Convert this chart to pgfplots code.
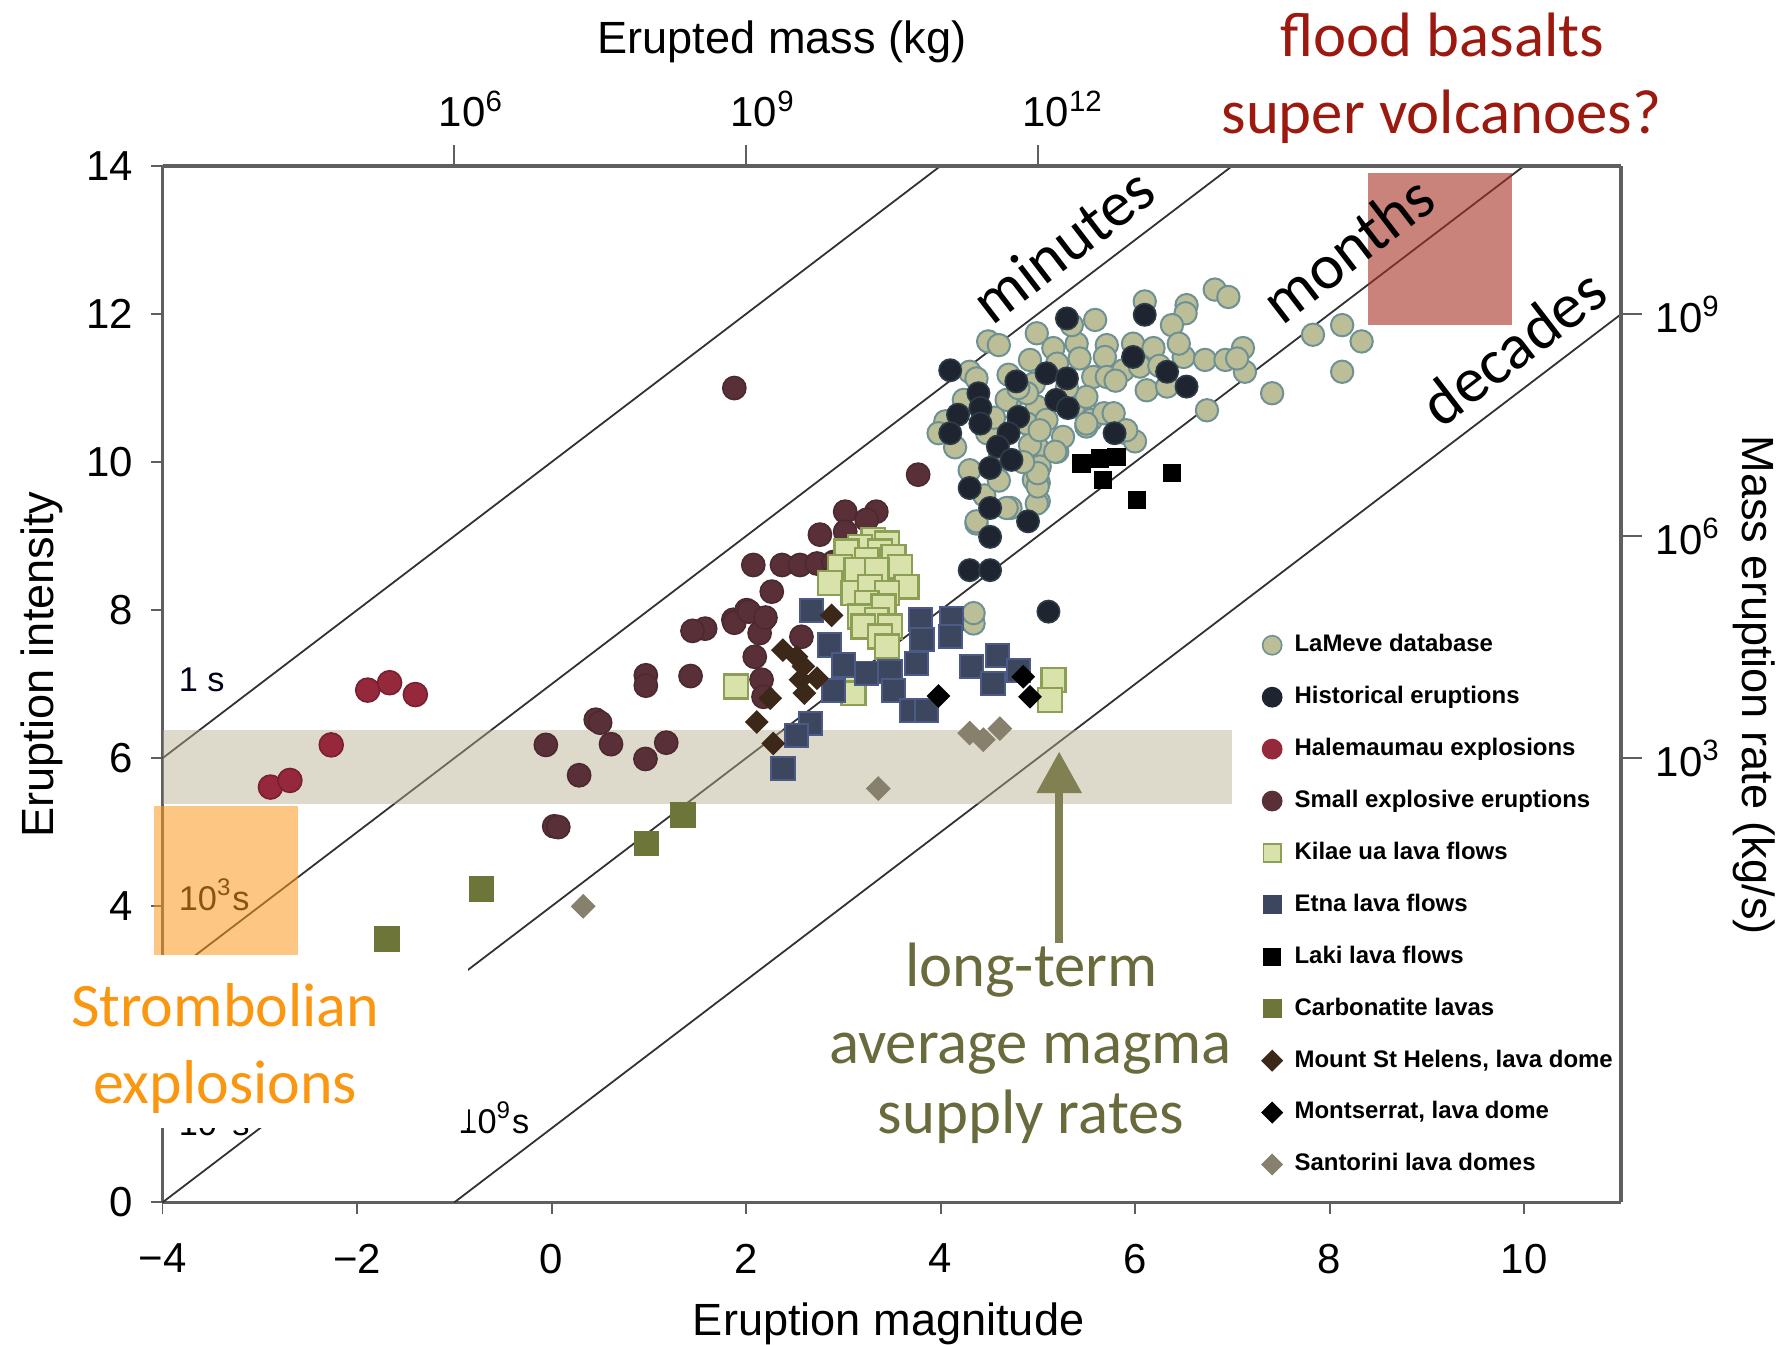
\documentclass[border=0pt]{standalone}
\usepackage{fontspec}
\setmainfont{Liberation Sans}
\newfontfamily\calib{Carlito}
\usepackage{pgfplots}
\pgfplotsset{compat=1.18}
\usetikzlibrary{arrows.meta}

\definecolor{lamevefill}{RGB}{188,190,152}
\definecolor{lamevedraw}{RGB}{110,145,148}
\definecolor{histfill}{RGB}{30,37,48}
\definecolor{histdraw}{RGB}{45,60,70}
\definecolor{halefill}{RGB}{150,40,60}
\definecolor{smallfill}{RGB}{90,48,56}
\definecolor{kilfill}{RGB}{218,226,172}
\definecolor{kildraw}{RGB}{140,160,85}
\definecolor{etnafill}{RGB}{60,70,95}
\definecolor{etnadraw}{RGB}{75,90,135}
\definecolor{carbfill}{RGB}{110,117,56}
\definecolor{mshfill}{RGB}{60,40,25}
\definecolor{santfill}{RGB}{135,128,108}
\definecolor{bandc}{RGB}{182,173,139}
\definecolor{orangebox}{RGB}{251,153,30}
\definecolor{redbox}{RGB}{165,48,35}
\definecolor{floodred}{RGB}{155,25,15}
\definecolor{strombo}{RGB}{250,150,15}
\definecolor{olivetext}{RGB}{105,107,60}
\definecolor{olivearrow}{RGB}{128,128,82}
\definecolor{axisgray}{RGB}{95,95,95}
\definecolor{linec}{RGB}{50,50,50}

\begin{document}
\begin{tikzpicture}
\begin{axis}[
  scale only axis, width=12.836cm, height=9.12cm,
  xmin=-4, xmax=11, ymin=0, ymax=14,
  axis x line*=bottom, axis y line*=left,
  axis line style={axisgray, line width=0.7pt, -},
  xtick={-4,-2,...,10}, xticklabels={−4,−2,0,2,4,6,8,10},
  ytick={0,2,...,14},
  tick align=outside, major tick length=0.1cm,
  tick style={axisgray, line width=0.5pt},
  ticklabel style={font=\fontsize{10.5}{12}\selectfont},
  /pgf/number format/assume math mode=true,
  xticklabel style={yshift=-4pt},
  yticklabel style={xshift=-1pt},
  clip=false,
  legend cell align=left,
  legend image code/.code={\draw[#1] plot coordinates {(0cm,0cm)}; \path (-0.1cm,-3.2pt) (0.19cm,3.2pt);},
  legend style={draw=none, fill=none, at={(axis cs:7.277,7.72)}, anchor=north west,
    inner sep=0pt, row sep=6.2pt,
    font=\bfseries\fontsize{6}{7}\selectfont,
    nodes={inner sep=0pt, text height=4.6pt, text depth=1.4pt}},
]
% duration lines
\addplot[linec, line width=0.45pt, forget plot] coordinates {(-4,6) (4,14)};
\addplot[linec, line width=0.45pt, forget plot] coordinates {(-4,3) (7,14)};
\addplot[linec, line width=0.45pt, forget plot] coordinates {(-4,0) (10,14)};
\addplot[linec, line width=0.45pt, forget plot] coordinates {(-1,0) (11,12)};

% LaMeve database
\addplot[only marks, mark=*, mark size=2.8pt, mark options={fill=lamevefill, draw=lamevedraw, line width=0.5pt}, forget plot] coordinates {
(6.82,12.33)(6.96,12.23)(6.10,12.17)(6.53,12.12)(6.52,12.01)(5.59,11.92)(4.99,11.74)(4.49,11.63)(4.60,11.58)
(5.16,11.54)(5.40,11.60)(5.71,11.58)(5.98,11.60)(6.19,11.54)(6.38,11.85)(5.43,11.40)(5.69,11.42)(5.57,11.15)
(5.71,11.15)(5.88,11.24)(6.05,11.29)(6.12,10.97)(6.33,11.02)(6.50,11.42)(6.72,11.38)(6.93,11.38)(7.11,11.54)
(7.13,11.22)(6.74,10.70)(7.41,10.93)(7.83,11.72)(8.13,11.85)(8.33,11.63)(8.13,11.22)(4.30,11.22)(4.70,11.18)
(4.96,11.06)(4.92,11.38)(5.20,11.33)(4.72,10.84)(4.99,10.75)(4.89,10.52)(5.09,10.57)(5.37,10.75)(5.50,10.88)
(5.55,10.57)(5.68,10.66)(5.50,10.48)(5.20,10.14)(4.99,10.21)(5.02,9.94)(4.96,9.76)(5.01,9.47)(4.72,9.38)
(4.37,9.17)(4.00,10.41)(4.30,9.89)(4.48,10.39)(4.24,10.84)(4.37,11.13)(5.91,10.39)(6.00,10.28)(5.78,10.66)
(5.26,10.34)(4.61,10.03)(4.68,9.38)(4.37,9.20)(5.01,9.72)(4.34,7.82)(4.99,9.44)(5.00,9.67)(5.00,9.85)
(5.18,10.14)(4.92,10.23)(4.61,10.07)(5.50,10.52)(5.91,10.43)(4.68,10.84)(4.89,10.93)(5.02,10.43)(4.34,7.96)
(4.05,10.55)(4.15,10.20)(4.45,9.55)(4.60,9.75)(4.85,10.00)(4.55,10.60)(4.80,11.00)(5.30,11.00)(5.80,11.10)
(6.25,11.30)(5.35,11.85)(6.45,11.60)(7.05,11.40)(3.98,10.39)
};
% Historical eruptions
\addplot[only marks, mark=*, mark size=2.8pt, mark options={fill=histfill, draw=histdraw, line width=0.4pt}, forget plot] coordinates {
(5.30,11.94)(6.10,11.99)(4.10,11.24)(5.98,11.42)(6.33,11.22)(6.53,11.02)(4.39,10.93)(4.78,11.09)(5.09,11.20)
(5.30,11.13)(5.19,10.84)(5.31,10.73)(4.18,10.64)(4.41,10.73)(4.41,10.52)(4.10,10.39)(4.80,10.61)(4.70,10.39)
(4.59,10.21)(4.73,10.03)(4.51,9.92)(4.30,9.65)(4.51,9.38)(4.90,9.20)(4.51,8.99)(5.79,10.39)(4.30,8.54)
(4.51,8.54)(5.11,7.98)
};
% Halemaumau explosions
\addplot[only marks, mark=*, mark size=3.0pt, mark options={fill=halefill, draw=halefill!80!black, line width=0.4pt}, forget plot] coordinates {
(-1.89,6.92)(-1.665,7.02)(-1.40,6.86)(-2.265,6.18)(-2.89,5.61)(-2.69,5.70)
};
% Small explosive eruptions
\addplot[only marks, mark=*, mark size=2.9pt, mark options={fill=smallfill, draw=smallfill!85!black, line width=0.4pt}, forget plot] coordinates {
(1.88,11.0)(3.77,9.83)(3.02,9.33)(3.34,9.33)(3.24,9.22)(2.76,9.02)(3.02,9.06)(2.075,8.61)(2.37,8.61)
(2.555,8.61)(2.73,8.63)(2.90,8.65)(2.265,8.25)(1.87,7.87)(2.007,8.0)(2.18,7.87)(2.14,7.69)(2.57,7.64)
(2.09,7.37)(2.16,7.06)(2.18,6.83)(1.58,7.75)(1.45,7.72)(1.88,7.83)(2.03,7.98)(2.2,7.9)(0.97,7.12)
(0.97,6.98)(1.43,7.11)(0.455,6.52)(0.50,6.48)(-0.058,6.18)(0.284,5.77)(0.612,6.19)(0.966,5.99)(1.18,6.21)
(0.028,5.08)(0.07,5.07)
};
% Kilauea lava flows
\addplot[only marks, mark=square*, mark size=3.0pt, mark options={fill=kilfill, draw=kildraw, line width=0.6pt}, forget plot] coordinates {
(3.309,8.948)(3.447,8.903)(3.172,8.857)(3.035,8.790)(3.378,8.790)(3.515,8.722)(3.241,8.678)(2.967,8.587)
(3.584,8.587)(3.138,8.543)(3.344,8.543)(2.864,8.363)(3.652,8.317)(3.104,8.228)(3.275,8.317)(3.447,8.228)
(3.241,8.093)(3.412,8.047)(3.172,7.912)(3.344,7.867)(3.481,7.777)(3.206,7.777)(3.378,7.642)(3.447,7.507)
(3.035,7.057)(3.104,6.877)(1.90,6.97)(5.16,7.06)(5.125,6.79)
};
% Etna lava flows
\addplot[only marks, mark=square*, mark size=2.9pt, mark options={fill=etnafill, draw=etnadraw, line width=0.5pt}, forget plot] coordinates {
(2.675,8.0)(2.86,7.53)(3.0,7.26)(3.24,7.15)(3.48,7.17)(3.515,6.92)(2.90,6.92)(3.70,6.65)(3.86,6.65)
(3.79,7.87)(3.81,7.60)(3.755,7.28)(4.115,7.89)(4.10,7.64)(4.32,7.24)(4.59,7.39)(4.54,7.01)(4.80,7.19)
(2.66,6.47)(2.52,6.31)(2.38,5.86)
};
% Laki lava flows
\addplot[only marks, mark=square*, mark size=2.1pt, mark options={fill=black, draw=black}, forget plot] coordinates {
(5.45,9.98)(5.64,10.05)(5.81,10.07)(5.67,9.76)(6.02,9.49)(6.38,9.85)
};
% Carbonatite lavas
\addplot[only marks, mark=square*, mark size=3.0pt, mark options={fill=carbfill, draw=carbfill}, forget plot] coordinates {
(-1.69,3.56)(-0.718,4.23)(0.975,4.85)(1.35,5.23)
};
% Mount St Helens, lava dome
\addplot[only marks, mark=square*, mark size=1.9pt, mark options={rotate=45, fill=mshfill, draw=mshfill}, forget plot] coordinates {
(2.38,7.46)(2.52,7.37)(2.59,7.24)(2.56,7.06)(2.73,7.08)(2.60,6.88)(2.25,6.81)(2.11,6.49)(2.88,7.93)(2.28,6.20)
};
% Montserrat, lava dome
\addplot[only marks, mark=square*, mark size=1.9pt, mark options={rotate=45, fill=black, draw=black}, forget plot] coordinates {
(3.98,6.84)(4.85,7.10)(4.92,6.83)
};
% Santorini lava domes
\addplot[only marks, mark=square*, mark size=2.0pt, mark options={rotate=45, fill=santfill, draw=santfill}, forget plot] coordinates {
(4.30,6.34)(4.44,6.25)(4.61,6.40)(3.36,5.59)(0.326,4.0)
};

% duration labels
\node[anchor=base west, font=\fontsize{8.6}{10}\selectfont, text=black!90!blue, inner sep=0pt] at (axis cs:-3.84,6.90) {1 s};
\node[anchor=base west, font=\fontsize{8.6}{10}\selectfont, inner sep=0pt] at (axis cs:-3.84,3.94) {10\textsuperscript{3}s};
\node[anchor=base west, font=\fontsize{8.6}{10}\selectfont, inner sep=0pt] at (axis cs:-3.84,0.91) {10\textsuperscript{6}s};
\node[anchor=base west, font=\fontsize{8.6}{10}\selectfont, inner sep=0pt] at (axis cs:-0.965,0.933) {10\textsuperscript{9}s};

% band of long-term supply rates
\fill[bandc, opacity=0.45] (axis cs:-4,5.375) rectangle (axis cs:7,6.38);
% boxes
\fill[orangebox, opacity=0.55] (axis cs:-4.085,3.34) rectangle (axis cs:-2.605,5.357);
\fill[redbox, opacity=0.6] (axis cs:8.40,11.845) rectangle (axis cs:9.875,13.91);
\fill[white] (axis cs:-5.3,1.0) rectangle (axis cs:-0.86,3.34);

% annotations
\node[anchor=base west, rotate=37.5, font=\calib\fontsize{16}{19}\selectfont, inner sep=0pt] at (axis cs:4.53,11.83) {minutes};
\node[anchor=base west, rotate=37.5, font=\calib\fontsize{16}{19}\selectfont, inner sep=0pt] at (axis cs:7.51,11.83) {months};
\node[anchor=base west, rotate=37.5, font=\calib\fontsize{16}{19}\selectfont, inner sep=0pt] at (axis cs:9.15,10.44) {decades};

\node[anchor=base, font=\calib\fontsize{15.7}{19}\selectfont, text=floodred, inner sep=0pt] at (axis cs:9.16,15.48) {flood basalts};
\node[anchor=base, font=\calib\fontsize{15.7}{19}\selectfont, text=floodred, inner sep=0pt] at (axis cs:9.15,14.44) {super volcanoes?};

\node[anchor=base, font=\calib\fontsize{15.5}{19}\selectfont, text=strombo, inner sep=0pt] at (axis cs:-3.357,2.373) {Strombolian};
\node[anchor=base, font=\calib\fontsize{15.5}{19}\selectfont, text=strombo, inner sep=0pt] at (axis cs:-3.357,1.339) {explosions};

\draw[olivearrow, line width=2.1pt, -{Triangle[width=0.38cm,length=0.365cm]}] (axis cs:5.22,3.50) -- (axis cs:5.22,6.09);
\node[anchor=base, font=\calib\fontsize{15.7}{19}\selectfont, text=olivetext, inner sep=0pt] at (axis cs:4.935,2.92) {long-term};
\node[anchor=base, font=\calib\fontsize{15.7}{19}\selectfont, text=olivetext, inner sep=0pt] at (axis cs:4.925,1.879) {average magma};
\node[anchor=base, font=\calib\fontsize{15.7}{19}\selectfont, text=olivetext, inner sep=0pt] at (axis cs:4.93,0.933) {supply rates};

% axis titles
\node[anchor=base, font=\fontsize{11.3}{13}\selectfont, inner sep=0pt] at (rel axis cs:0.4978,-0.128) {Eruption magnitude};
\node[anchor=base, rotate=90, font=\fontsize{11.3}{13}\selectfont, inner sep=0pt] at (rel axis cs:-0.0748,0.519) {Eruption intensity};
\node[anchor=base, font=\fontsize{11.3}{13}\selectfont, inner sep=0pt] at (rel axis cs:0.4246,1.1086) {Erupted mass (kg)};
\node[anchor=base, rotate=-90, font=\fontsize{11.3}{13}\selectfont, inner sep=0pt] at (rel axis cs:1.0829,0.499) {Mass eruption rate (kg/s)};

% legend
\addlegendimage{only marks, mark=*, mark size=2.4pt, mark options={fill=lamevefill, draw=lamevedraw}}
\addlegendentry{LaMeve database}
\addlegendimage{only marks, mark=*, mark size=2.4pt, mark options={fill=histfill, draw=histfill}}
\addlegendentry{Historical eruptions}
\addlegendimage{only marks, mark=*, mark size=2.4pt, mark options={fill=halefill, draw=halefill}}
\addlegendentry{Halemaumau explosions}
\addlegendimage{only marks, mark=*, mark size=2.4pt, mark options={fill=smallfill, draw=smallfill}}
\addlegendentry{Small explosive eruptions}
\addlegendimage{only marks, mark=square*, mark size=2.2pt, mark options={fill=kilfill, draw=kildraw}}
\addlegendentry{Kilae ua lava flows}
\addlegendimage{only marks, mark=square*, mark size=2.2pt, mark options={fill=etnafill, draw=etnafill}}
\addlegendentry{Etna lava flows}
\addlegendimage{only marks, mark=square*, mark size=2.0pt, mark options={fill=black, draw=black}}
\addlegendentry{Laki lava flows}
\addlegendimage{only marks, mark=square*, mark size=2.2pt, mark options={fill=carbfill, draw=carbfill}}
\addlegendentry{Carbonatite lavas}
\addlegendimage{only marks, mark=square*, mark size=1.75pt, mark options={rotate=45, fill=mshfill, draw=mshfill}}
\addlegendentry{Mount St Helens, lava dome}
\addlegendimage{only marks, mark=square*, mark size=1.75pt, mark options={rotate=45, fill=black, draw=black}}
\addlegendentry{Montserrat, lava dome}
\addlegendimage{only marks, mark=square*, mark size=1.75pt, mark options={rotate=45, fill=santfill, draw=santfill}}
\addlegendentry{Santorini lava domes}

\coordinate (BBll) at (axis cs:-5.671,-1.926);
\coordinate (BBur) at (axis cs:12.653,16.242);
\end{axis}

\begin{axis}[
  scale only axis, width=12.836cm, height=9.12cm,
  xmin=-4, xmax=11, ymin=0, ymax=14,
  axis x line*=top, axis y line*=right,
  axis line style={axisgray, line width=0.9pt, -},
  xtick={-1,2,5}, xticklabels={10\rlap{\textsuperscript{6}},10\rlap{\textsuperscript{9}},10\rlap{\textsuperscript{12}}},
  ytick={6,9,12}, yticklabels={10\textsuperscript{3},10\textsuperscript{6},10\textsuperscript{9}},
  tick align=outside, major tick length=0.18cm,
  tick style={axisgray, line width=0.5pt},
  ticklabel style={font=\fontsize{10.5}{12}\selectfont},
  xticklabel style={yshift=1pt, xshift=2pt},
]
\end{axis}
\pgfresetboundingbox
\path[use as bounding box] (BBll) rectangle (BBur);
\end{tikzpicture}
\end{document}
